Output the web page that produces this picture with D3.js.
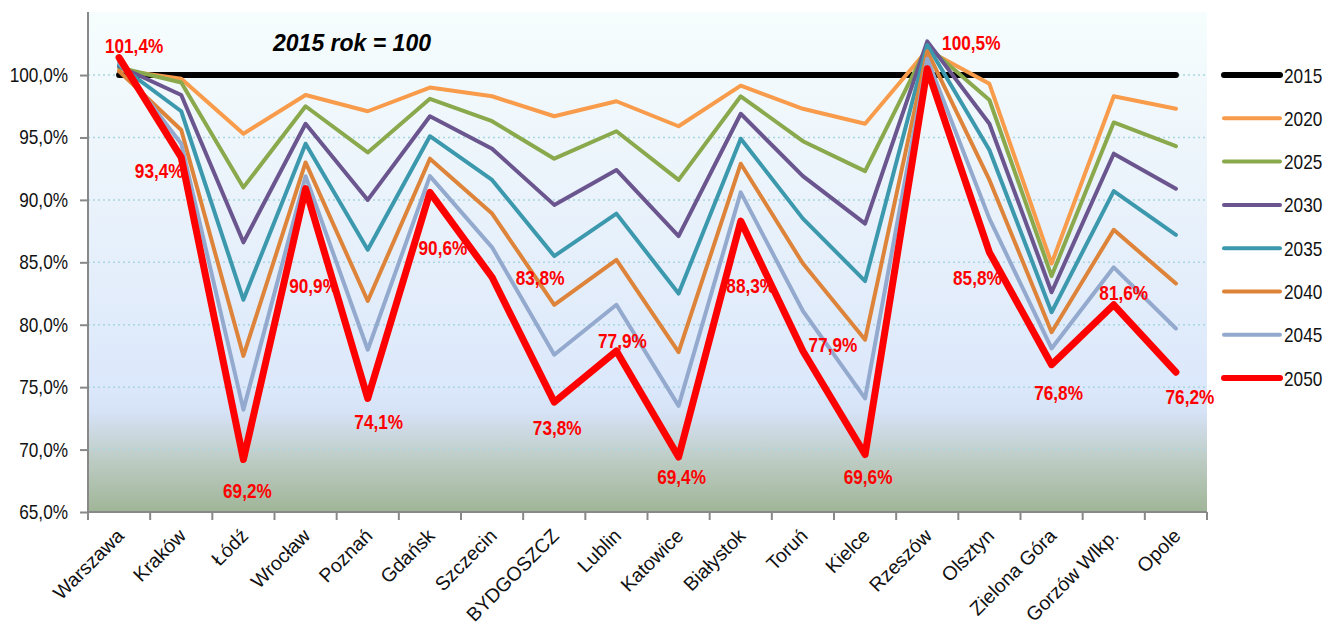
<!DOCTYPE html>
<html>
<head>
<meta charset="utf-8">
<script src="https://cdn.jsdelivr.net/npm/d3@7"></script>
<style>
  html, body { margin: 0; padding: 0; background: #ffffff; }
  svg { display: block; }
</style>
</head>
<body>
<svg id="chart" width="1325" height="626"></svg>
<script>
// ---------- data ----------
const cities = ["Warszawa", "Kraków", "Łódź", "Wrocław", "Poznań", "Gdańsk", "Szczecin", "BYDGOSZCZ", "Lublin", "Katowice", "Białystok", "Toruń", "Kielce", "Rzeszów", "Olsztyn", "Zielona Góra", "Gorzów Wlkp.", "Opole"];
const years = ["2015", "2020", "2025", "2030", "2035", "2040", "2045", "2050"];
const v2015 = [100, 100, 100, 100, 100, 100, 100, 100, 100, 100, 100, 100, 100, 100, 100, 100, 100, 100];
const v2020 = [100.4, 99.7, 95.3, 98.4, 97.1, 99.0, 98.3, 96.7, 97.9, 95.9, 99.15, 97.3, 96.1, 102.0, 99.3, 84.9, 98.3, 97.3];
const v2025 = [100.6, 99.4, 91.0, 97.5, 93.8, 98.1, 96.3, 93.3, 95.5, 91.6, 98.3, 94.7, 92.3, 102.3, 98.0, 83.9, 96.2, 94.3];
const v2030 = [100.7, 98.4, 86.6, 96.1, 90.0, 96.7, 94.1, 89.6, 92.4, 87.1, 96.9, 91.9, 88.1, 102.7, 96.1, 82.6, 93.7, 90.9];
const v2035 = [100.8, 97.1, 82.0, 94.5, 86.0, 95.1, 91.6, 85.5, 88.9, 82.5, 94.9, 88.5, 83.5, 102.4, 94.0, 81.0, 90.7, 87.2];
const v2040 = [100.3, 95.6, 77.5, 93.0, 81.9, 93.3, 88.9, 81.6, 85.2, 77.8, 92.9, 84.9, 78.8, 101.9, 91.6, 79.4, 87.6, 83.3];
const v2045 = [101.0, 94.5, 73.2, 91.9, 78.0, 91.9, 86.2, 77.6, 81.6, 73.5, 90.6, 81.1, 74.1, 101.3, 88.5, 78.1, 84.6, 79.7];
const v2050 = [101.4, 93.4, 69.2, 90.9, 74.1, 90.6, 83.8, 73.8, 77.9, 69.4, 88.3, 77.9, 69.6, 100.5, 85.8, 76.8, 81.6, 76.2];
const yTicks = [65, 70, 75, 80, 85, 90, 95, 100];
const title = "2015 rok = 100";

// label placement offsets for the 2050 data labels (dx, dy from the point, px)
const labelOffsets = [[15, -5], [-22, 21], [4, 38], [8, 104], [11, 31], [13, 63], [48, 8], [3, 33], [6, -3], [3, 27], [10, 72], [30, 1], [3, 29], [44, -19], [-12, 33], [7, 35], [10, -5], [14, 32]];

// ---------- styles ----------
const seriesValues = [v2015, v2020, v2025, v2030, v2035, v2040, v2045, v2050];
const colors = ["#000000", "#f89c4c", "#8aa94d", "#6b558e", "#3c99ad", "#dd843a", "#93a9cd", "#ff0000"];
const widths = [6, 4, 4, 4, 4, 4, 4, 7];
const SANS = "'Liberation Sans', Arial, sans-serif";
const SQ = 0.82; // horizontal squeeze to mimic a narrow face

const svg = d3.select("#chart");
const m = { left: 88, right: 1207, top: 12, bottom: 512 };

const x = d3.scaleBand().domain(cities).range([m.left, m.right]).padding(0);
const y = d3.scaleLinear().domain([65, 105.05]).range([m.bottom, m.top]);
const cx = d => x(d) + x.bandwidth() / 2;
const pct = d => d3.format(".1f")(d).replace(".", ",") + "%";

function narrow(sel, px, py) {
  return sel.attr("transform", (d, i) => `translate(${px(d, i)},${py(d, i)}) scale(${SQ},1)`);
}

// background gradient
const defs = svg.append("defs");
const grad = defs.append("linearGradient").attr("id", "bg").attr("x1", 0).attr("y1", 0).attr("x2", 0).attr("y2", 1);
[[0, "#f6fdfd"], [0.4, "#e9f2fb"], [0.74, "#dce8fb"], [0.8, "#d6e2f6"], [0.9, "#bccbc2"], [1, "#9fb597"]].forEach(s =>
  grad.append("stop").attr("offset", s[0]).attr("stop-color", s[1]));

svg.append("rect").attr("x", m.left).attr("y", m.top).attr("width", m.right - m.left).attr("height", m.bottom - m.top).attr("fill", "url(#bg)");

// gridlines
svg.append("g").selectAll("line").data(yTicks.filter(t => t > 65)).join("line")
  .attr("x1", m.left).attr("x2", m.right).attr("y1", d => y(d)).attr("y2", d => y(d))
  .attr("stroke", "#a9d6e0").attr("stroke-width", 1.5).attr("stroke-dasharray", "2,3");

// y axis
const yAxis = svg.append("g").attr("transform", `translate(${m.left},0)`)
  .call(d3.axisLeft(y).tickValues(yTicks).tickSize(8).tickFormat(""));
yAxis.select(".domain").attr("stroke", "#888888").attr("stroke-width", 2).attr("d", `M0,${m.top}V${m.bottom}`);
yAxis.selectAll(".tick line").attr("stroke", "#888888").attr("stroke-width", 2);
narrow(svg.append("g").selectAll("text").data(yTicks).join("text"), () => 68, d => y(d) + 7)
  .attr("text-anchor", "end")
  .attr("font-family", SANS).attr("font-size", 21).attr("fill", "#111")
  .text(pct);

// x axis
const xAxis = svg.append("g").attr("transform", `translate(0,${m.bottom})`);
xAxis.append("line").attr("x1", m.left).attr("x2", m.right).attr("y1", 0).attr("y2", 0).attr("stroke", "#888888").attr("stroke-width", 2);
const bounds = cities.map(c => x(c)).concat([m.right]);
xAxis.selectAll("line.tk").data(bounds).join("line").attr("class", "tk")
  .attr("x1", d => d).attr("x2", d => d).attr("y1", 0).attr("y2", 8).attr("stroke", "#888888").attr("stroke-width", 2);
xAxis.selectAll("text").data(cities).join("text")
  .attr("transform", d => `translate(${cx(d) + 6},${25}) rotate(-45)`)
  .attr("text-anchor", "end")
  .attr("font-family", SANS).attr("font-size", 19.5).attr("fill", "#111")
  .text(d => d);

// lines
const line = d3.line().x((d, i) => cx(cities[i])).y(d => y(d));
svg.append("g").selectAll("path").data(seriesValues).join("path")
  .attr("d", d => line(d))
  .attr("fill", "none")
  .attr("stroke", (d, i) => colors[i])
  .attr("stroke-width", (d, i) => widths[i])
  .attr("stroke-linejoin", "round")
  .attr("stroke-linecap", "round");

// data labels for 2050
narrow(svg.append("g").selectAll("text").data(v2050).join("text"),
    (d, i) => cx(cities[i]) + labelOffsets[i][0], (d, i) => y(d) + labelOffsets[i][1])
  .attr("text-anchor", "middle")
  .attr("font-family", SANS).attr("font-weight", "bold").attr("font-size", 21)
  .attr("fill", "#ff0000")
  .text(pct);

// title
svg.append("text").attr("x", 352).attr("y", 51).attr("text-anchor", "middle")
  .attr("font-family", SANS).attr("font-weight", "bold").attr("font-style", "italic").attr("font-size", 23)
  .attr("fill", "#000").text(title);

// legend
const lg = svg.append("g").selectAll("g").data(years).join("g")
  .attr("transform", (d, i) => `translate(1224,${75 + i * 43.3})`);
lg.append("line").attr("x1", 0).attr("x2", 56).attr("y1", 0).attr("y2", 0)
  .attr("stroke", (d, i) => colors[i]).attr("stroke-width", (d, i) => i === 0 || i === 7 ? 6 : 4)
  .attr("stroke-linecap", "round");
narrow(lg.append("text"), () => 60, () => 7.5)
  .attr("font-family", SANS).attr("font-size", 21).attr("fill", "#111").text(d => d);
</script>
</body>
</html>
